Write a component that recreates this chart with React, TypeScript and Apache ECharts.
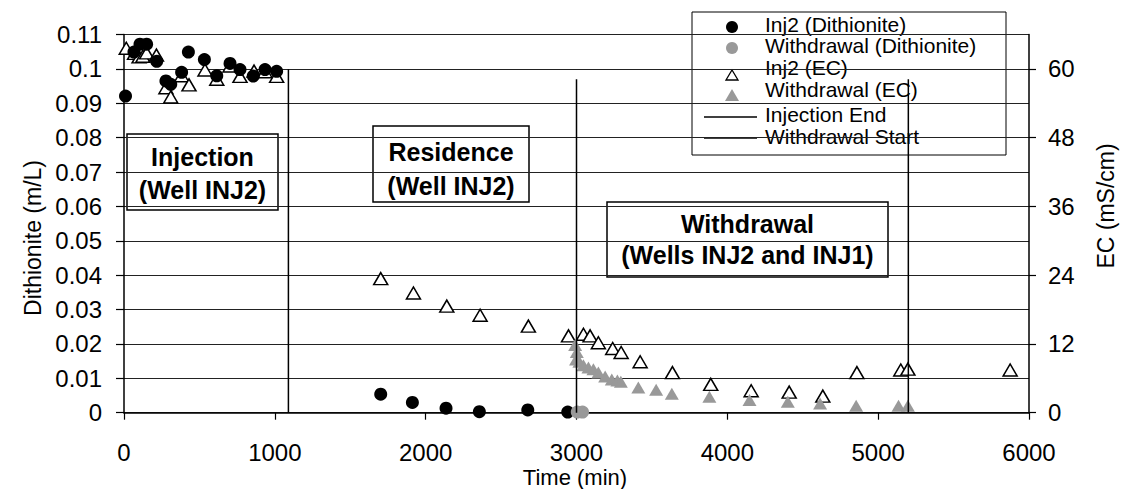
import React, { useEffect, useRef } from "react";
import * as echarts from "echarts";

const FONT = "'Liberation Sans', Arial, Helvetica, sans-serif";

// Inj2 (Dithionite) – time (min) and concentration (m/L)
const inj2DithTime = [10, 66, 106, 150, 217, 278, 310, 382, 427, 533, 615, 703, 769, 857, 935, 1012, 1702, 1912, 2135, 2356, 2677, 2942];
const inj2DithValue = [0.0921, 0.1049, 0.1072, 0.1072, 0.1022, 0.0965, 0.0955, 0.099, 0.1049, 0.1027, 0.098, 0.1016, 0.0998, 0.0979, 0.0998, 0.0993, 0.0054, 0.003, 0.0013, 0.0003, 0.0008, 0.0002];

// Withdrawal (Dithionite)
const wdDithTime = [3005, 3040];
const wdDithValue = [0.0002, 0.0002];

// Inj2 (EC) – mS/cm
const inj2ECTime = [15, 70, 100, 125, 150, 215, 278, 310, 382, 431, 537, 615, 703, 769, 862, 935, 1012, 1702, 1919, 2140, 2361, 2681, 2947, 3046, 3090, 3145, 3240, 3296, 3422, 3636, 3890, 4158, 4410, 4633, 4859, 5150, 5197, 5875];
const inj2ECValue = [63.6, 62.7, 62.1, 62.2, 62.8, 62.4, 56.7, 55.1, 58.8, 57.2, 59.8, 58.2, 60.5, 58.7, 59.6, 59.5, 58.7, 23.4, 20.9, 18.6, 17.0, 15.1, 13.4, 13.7, 13.4, 12.2, 11.2, 10.5, 8.9, 7.0, 4.95, 3.84, 3.6, 2.9, 7.0, 7.45, 7.6, 7.45];

// Withdrawal (EC)
const wdECTime = [2991, 3002, 2997, 3019, 3046, 3079, 3112, 3145, 3190, 3234, 3271, 3294, 3410, 3528, 3632, 3881, 4147, 4401, 4615, 4854, 5135, 5197];
const wdECValue = [11.8, 10.6, 9.3, 8.9, 8.3, 7.9, 7.6, 7.0, 6.3, 5.8, 5.6, 5.4, 4.4, 4.0, 3.3, 2.8, 2.2, 1.9, 1.6, 1.2, 1.2, 1.2];

// Vertical marker lines
const injectionEndTime = [1090, 1090];
const injectionEndValue = [0, 0.1];
const withdrawalStartTime = [3000, 3000];
const withdrawalStartValue = [0, 0.097];
const withdrawalStart2Time = [5200, 5200];
const withdrawalStart2Value = [0, 0.097];

// Axis settings
const xTicks = { min: 0, max: 6000, interval: 1000 };
const yLeftTicks = { min: 0, max: 0.11, interval: 0.01 };
const yRightTicks = { min: 0, max: 66, interval: 12 };

const zip = (xs: number[], ys: number[]) => xs.map((x, i) => [x, ys[i]]);

export default function App() {
  const ref = useRef<HTMLDivElement>(null);

  useEffect(() => {
    if (!ref.current) return;
    const chart = echarts.init(ref.current, null, { renderer: "svg" });

    const lbl = { fontFamily: FONT, fontSize: 24, color: "#000" };
    const legendText = { fontFamily: FONT, fontSize: 21, lineHeight: 20, fill: "#000" };
    const boxText = { fontFamily: FONT, fontSize: 25, fontWeight: "bold", fill: "#000" };
    const lx = 732;
    const tx = 765;

    const option: any = {
      animation: false,
      textStyle: { fontFamily: FONT },
      grid: { left: 124, right: 96, top: 34.5, bottom: 76.3, containLabel: false },
      xAxis: {
        type: "value",
        ...xTicks,
        axisLine: { show: true, onZero: false, lineStyle: { color: "#000", width: 1.5 } },
        axisTick: { show: true, length: 7, lineStyle: { color: "#000", width: 1.2 } },
        axisLabel: { ...lbl, margin: 28, formatter: (v: number) => String(v) },
        splitLine: { show: false },
      },
      yAxis: [
        {
          type: "value",
          ...yLeftTicks,
          axisLine: { show: true, lineStyle: { color: "#000", width: 1.5 } },
          axisTick: { show: true, length: 8, lineStyle: { color: "#000", width: 1.2 } },
          axisLabel: {
            ...lbl,
            margin: 22,
            formatter: (v: number) => (v === 0 ? "0" : String(+v.toFixed(2))),
          },
          splitLine: { show: true, lineStyle: { color: "#222", width: 1 } },
        },
        {
          type: "value",
          position: "right",
          ...yRightTicks,
          alignTicks: false,
          axisLine: { show: true, lineStyle: { color: "#000", width: 1.5 } },
          axisTick: { show: true, length: 7, lineStyle: { color: "#000", width: 1.2 } },
          axisLabel: {
            ...lbl,
            margin: 19,
            showMaxLabel: false,
            formatter: (v: number) => (v % 12 === 0 ? String(v) : ""),
          },
          splitLine: { show: false },
        },
      ],
      series: [
        {
          name: "Inj2 (EC)",
          type: "scatter",
          yAxisIndex: 1,
          symbol: "triangle",
          symbolSize: [14, 12],
          itemStyle: { color: "#fff", borderColor: "#000", borderWidth: 1.5, opacity: 1 },
          data: zip(inj2ECTime, inj2ECValue),
        },
        {
          name: "Withdrawal (EC)",
          type: "scatter",
          yAxisIndex: 1,
          symbol: "triangle",
          symbolSize: [14, 12],
          itemStyle: { color: "#999", opacity: 1 },
          data: zip(wdECTime, wdECValue),
        },
        {
          name: "Inj2 (Dithionite)",
          type: "scatter",
          symbol: "circle",
          symbolSize: 13,
          itemStyle: { color: "#000", opacity: 1 },
          data: zip(inj2DithTime, inj2DithValue),
        },
        {
          name: "Withdrawal (Dithionite)",
          type: "scatter",
          symbol: "circle",
          symbolSize: 13,
          itemStyle: { color: "#999", opacity: 1 },
          data: zip(wdDithTime, wdDithValue),
        },
        {
          name: "Injection End",
          type: "line",
          symbol: "none",
          lineStyle: { color: "#000", width: 1.5 },
          data: zip(injectionEndTime, injectionEndValue),
        },
        {
          name: "Withdrawal Start",
          type: "line",
          symbol: "none",
          lineStyle: { color: "#000", width: 1.5 },
          data: zip(withdrawalStartTime, withdrawalStartValue),
        },
        {
          name: "Withdrawal Start 2",
          type: "line",
          symbol: "none",
          lineStyle: { color: "#000", width: 1.5 },
          data: zip(withdrawalStart2Time, withdrawalStart2Value),
        },
      ],
      graphic: [
        // Axis titles
        {
          type: "text",
          x: 33,
          y: 238,
          rotation: Math.PI / 2,
          style: { text: "Dithionite (m/L)", fontFamily: FONT, fontSize: 23, fill: "#000", align: "center", verticalAlign: "middle" },
        },
        {
          type: "text",
          x: 1106,
          y: 206,
          rotation: Math.PI / 2,
          style: { text: "EC (mS/cm)", fontFamily: FONT, fontSize: 23, fill: "#000", align: "center", verticalAlign: "middle" },
        },
        {
          type: "text",
          x: 575,
          y: 477,
          style: { text: "Time (min)", fontFamily: FONT, fontSize: 22, fill: "#000", align: "center", verticalAlign: "middle" },
        },
        // Annotation boxes
        {
          type: "group",
          z: 50,
          children: [
            { type: "rect", shape: { x: 127, y: 134, width: 151, height: 76 }, style: { fill: "#fff", stroke: "#000", lineWidth: 1.5 } },
            { type: "text", x: 202.5, y: 157, style: { ...boxText, text: "Injection", align: "center", verticalAlign: "middle" } },
            { type: "text", x: 202.5, y: 190, style: { ...boxText, text: "(Well INJ2)", align: "center", verticalAlign: "middle" } },
          ],
        },
        {
          type: "group",
          z: 50,
          children: [
            { type: "rect", shape: { x: 373, y: 126, width: 156, height: 76 }, style: { fill: "#fff", stroke: "#000", lineWidth: 1.5 } },
            { type: "text", x: 451, y: 152, style: { ...boxText, text: "Residence", align: "center", verticalAlign: "middle" } },
            { type: "text", x: 451, y: 186, style: { ...boxText, text: "(Well INJ2)", align: "center", verticalAlign: "middle" } },
          ],
        },
        {
          type: "group",
          z: 50,
          children: [
            { type: "rect", shape: { x: 607, y: 202, width: 281, height: 75 }, style: { fill: "#fff", stroke: "#000", lineWidth: 1.5 } },
            { type: "text", x: 747.5, y: 224, style: { ...boxText, text: "Withdrawal", align: "center", verticalAlign: "middle" } },
            { type: "text", x: 747.5, y: 255, style: { ...boxText, text: "(Wells INJ2 and INJ1)", align: "center", verticalAlign: "middle" } },
          ],
        },
        // Legend
        {
          type: "group",
          z: 60,
          children: [
            { type: "rect", shape: { x: 692, y: 12, width: 314, height: 143 }, style: { fill: "#fff", stroke: "#000", lineWidth: 1 } },
            { type: "circle", shape: { cx: lx, cy: 27, r: 6 }, style: { fill: "#000" } },
            { type: "circle", shape: { cx: lx, cy: 48, r: 6 }, style: { fill: "#999" } },
            { type: "polygon", shape: { points: [[lx - 6, 80], [lx + 6, 80], [lx, 70]] }, style: { fill: "#fff", stroke: "#000", lineWidth: 1.3 } },
            { type: "polygon", shape: { points: [[lx - 7, 101], [lx + 7, 101], [lx, 89]] }, style: { fill: "#999" } },
            { type: "line", shape: { x1: 704, y1: 117, x2: 757, y2: 117 }, style: { stroke: "#000", lineWidth: 1.5 } },
            { type: "line", shape: { x1: 704, y1: 138, x2: 757, y2: 138 }, style: { stroke: "#000", lineWidth: 1.5 } },
            { type: "text", x: tx, y: 24, style: { ...legendText, text: "Inj2 (Dithionite)", verticalAlign: "middle" } },
            { type: "text", x: tx, y: 45, style: { ...legendText, text: "Withdrawal (Dithionite)", verticalAlign: "middle" } },
            { type: "text", x: tx, y: 67, style: { ...legendText, text: "Inj2 (EC)", verticalAlign: "middle" } },
            { type: "text", x: tx, y: 89, style: { ...legendText, text: "Withdrawal (EC)", verticalAlign: "middle" } },
            { type: "text", x: tx, y: 114, style: { ...legendText, text: "Injection End", verticalAlign: "middle" } },
            { type: "text", x: tx, y: 136, style: { ...legendText, text: "Withdrawal Start", verticalAlign: "middle" } },
          ],
        },
      ],
    };

    chart.setOption(option);
    return () => chart.dispose();
  }, []);

  return (
    <div
      ref={ref}
      style={{ position: "absolute", left: 0, top: 0, width: 1125, height: 489, background: "#fff" }}
    />
  );
}
